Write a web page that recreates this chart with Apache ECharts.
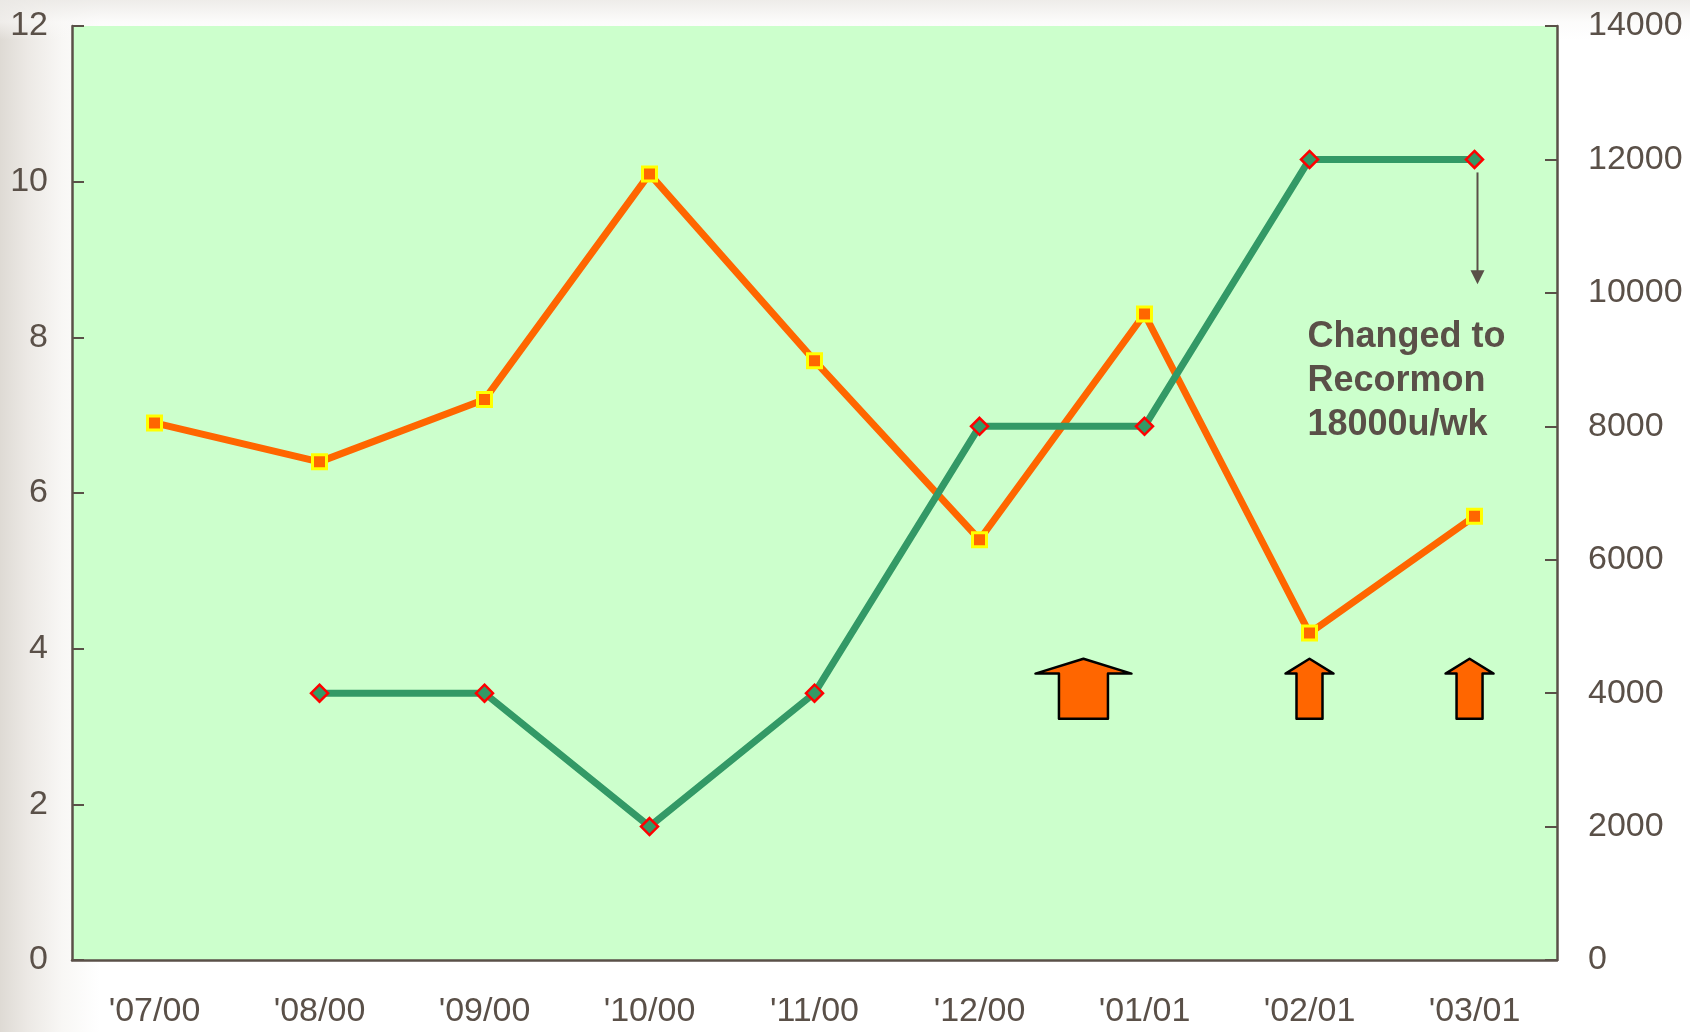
<!DOCTYPE html>
<html>
<head>
<meta charset="utf-8">
<script src="https://cdn.jsdelivr.net/npm/echarts@6/dist/echarts.min.js"></script>
<style>
  html, body { margin: 0; padding: 0; }
  body {
    width: 1690px; height: 1032px; overflow: hidden;
    background:
      linear-gradient(to bottom, rgba(236,234,231,0.9) 0px, rgba(250,249,248,0.6) 22px, rgba(255,255,255,0) 40px),
      linear-gradient(to right, #dedad4 0px, #ecE9e5 28px, #f8f7f5 62px, #ffffff 100px);
  }
  #chart { width: 1690px; height: 1032px; }
</style>
</head>
<body>
<div id="chart"></div>
<script>
// Months on the category axis
const months = ["'07/00", "'08/00", "'09/00", "'10/00", "'11/00", "'12/00", "'01/01", "'02/01", "'03/01"];
// Haemoglobin (left axis, g/dL)
const hbValues = [6.9, 6.4, 7.2, 10.1, 7.7, 5.4, 8.3, 4.2, 5.7];
// Weekly EPO dose (right axis, units)
const doseValues = [null, 4000, 4000, 2000, 4000, 8000, 8000, 12000, 12000];
// Axis tick values
const leftTicks = [0, 2, 4, 6, 8, 10, 12];
const rightTicks = [0, 2000, 4000, 6000, 8000, 10000, 12000, 14000];
// Dose-increase markers: category position (fractional index) and relative width
const doseUpMarks = [
  { at: 5.63, wide: true },
  { at: 7, wide: false },
  { at: 7.97, wide: false }
];
const noteLines = ['Changed to', 'Recormon', '18000u/wk'];

const axisColor = '#5a5048';
const labelFont = { color: axisColor, fontSize: 34, fontFamily: 'Liberation Sans, Arial, sans-serif' };

const chart = echarts.init(document.getElementById('chart'), null, { renderer: 'canvas' });

const option = {
  animation: false,
  backgroundColor: 'transparent',
  grid: { left: 72, right: 133, top: 26, bottom: 72, show: true, backgroundColor: '#ccffcc', borderWidth: 0 },
  xAxis: {
    type: 'category',
    data: months,
    boundaryGap: true,
    axisLine: { lineStyle: { color: axisColor, width: 2.5 } },
    axisTick: { inside: true, length: 12, lineStyle: { color: axisColor, width: 2 } },
    axisLabel: Object.assign({ margin: 35, interval: 0 }, labelFont),
    splitLine: { show: false }
  },
  yAxis: [
    {
      type: 'value', min: leftTicks[0], max: leftTicks[leftTicks.length - 1], interval: leftTicks[1] - leftTicks[0],
      axisLine: { show: true, lineStyle: { color: axisColor, width: 2.5 } },
      axisTick: { show: true, inside: true, length: 12, lineStyle: { color: axisColor, width: 2 } },
      axisLabel: Object.assign({ margin: 24 }, labelFont),
      splitLine: { show: false }
    },
    {
      type: 'value', min: rightTicks[0], max: rightTicks[rightTicks.length - 1], interval: rightTicks[1] - rightTicks[0],
      position: 'right',
      axisLine: { show: true, lineStyle: { color: axisColor, width: 2.5 } },
      axisTick: { show: true, inside: true, length: 12, lineStyle: { color: axisColor, width: 2 } },
      axisLabel: Object.assign({ margin: 31, formatter: function (v) { return String(v); } }, labelFont),
      splitLine: { show: false }
    }
  ],
  series: [
    {
      name: 'Hb',
      type: 'line',
      yAxisIndex: 0,
      data: hbValues,
      symbol: 'rect',
      symbolSize: 14,
      lineStyle: { color: '#ff6600', width: 7 },
      itemStyle: { color: '#ff6600', borderColor: '#ffff00', borderWidth: 3 },
      z: 3
    },
    {
      name: 'Dose',
      type: 'line',
      yAxisIndex: 1,
      data: doseValues,
      symbol: 'diamond',
      symbolSize: 17,
      lineStyle: { color: '#339966', width: 7 },
      itemStyle: { color: '#339966', borderColor: '#ff0000', borderWidth: 2.5 },
      z: 4
    }
  ]
};
chart.setOption(option);

// Pixel x of a fractional category index
function catX(pos) {
  const i = Math.floor(pos);
  const x0 = chart.convertToPixel({ xAxisIndex: 0 }, i);
  const x1 = chart.convertToPixel({ xAxisIndex: 0 }, Math.min(i + 1, months.length - 1));
  const step = (i + 1 < months.length) ? (x1 - x0) : (x0 - chart.convertToPixel({ xAxisIndex: 0 }, i - 1));
  return x0 + (pos - i) * step;
}
function leftY(v) { return chart.convertToPixel({ yAxisIndex: 0 }, v); }
function rightY(v) { return chart.convertToPixel({ yAxisIndex: 1 }, v); }

const graphics = [];

// Block arrows showing dose increases
const tipY = leftY(3.87), shoulderY = leftY(3.68), baseY = leftY(3.1);
doseUpMarks.forEach(function (m) {
  const cx = catX(m.at);
  const hw = m.wide ? 48 : 24;
  const sw = m.wide ? 24.5 : 13;
  graphics.push({
    type: 'polygon',
    shape: { points: [
      [cx, tipY], [cx + hw, shoulderY], [cx + sw, shoulderY], [cx + sw, baseY],
      [cx - sw, baseY], [cx - sw, shoulderY], [cx - hw, shoulderY]
    ] },
    style: { fill: '#ff6600', stroke: '#000000', lineWidth: 2.5, lineJoin: 'round' },
    z: 10
  });
});

// Pointer from the last dose point down to the note
const lastIdx = months.length - 1;
const px = catX(lastIdx) + 3;
const pTop = rightY(doseValues[lastIdx]) + 13;
const pTip = rightY(10130);
graphics.push({
  type: 'line',
  shape: { x1: px, y1: pTop, x2: px, y2: pTip - 12 },
  style: { stroke: axisColor, lineWidth: 2 },
  z: 10
});
graphics.push({
  type: 'polygon',
  shape: { points: [[px - 7, pTip - 14], [px + 7, pTip - 14], [px, pTip]] },
  style: { fill: axisColor },
  z: 10
});

// Note text
graphics.push({
  type: 'text',
  x: catX(7) - 2,
  y: rightY(9670),
  style: {
    text: noteLines.join('\n'),
    fill: axisColor,
    font: 'bold 36px "Liberation Sans", Arial, sans-serif',
    lineHeight: 44,
    textVerticalAlign: 'top'
  },
  z: 10
});

chart.setOption({ graphic: graphics });
</script>
</body>
</html>
